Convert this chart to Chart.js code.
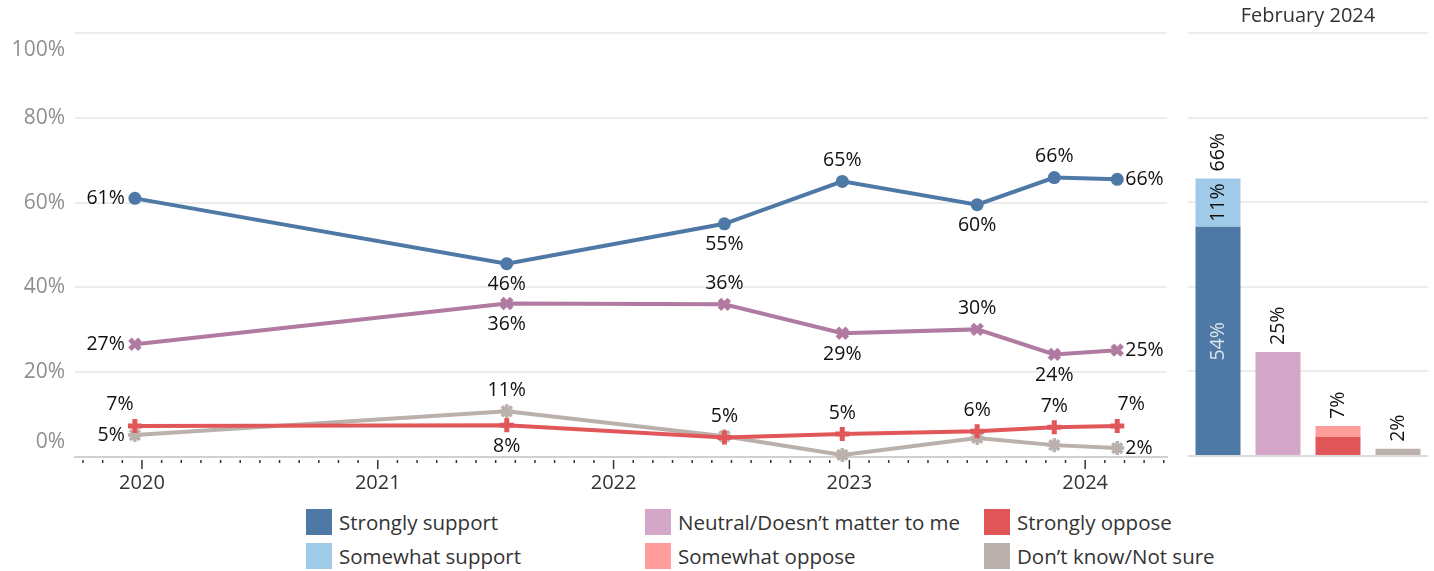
<!DOCTYPE html>
<html>
<head>
<meta charset="utf-8">
<title>Support over time</title>
<script src="https://cdn.jsdelivr.net/npm/chart.js@4.4.1/dist/chart.umd.min.js"></script>
<style>
  body { margin: 0; background: #fff; font-family: "Open Sans", sans-serif; }
  #page { position: relative; width: 1434px; height: 571px; overflow: hidden; }
  #lineBox { position: absolute; left: 0; top: 0; width: 1179px; height: 500px; }
  #barBox { position: absolute; left: 1180px; top: 0; width: 254px; height: 500px; }
  .key { position: absolute; display: flex; align-items: center; font-size: 20.5px; color: #333; white-space: nowrap; }
  .key span { display: inline-block; width: 26px; height: 26px; margin-right: 7px; }
</style>
</head>
<body>
<div id="page">
  <div id="lineBox"><canvas id="lineChart"></canvas></div>
  <div id="barBox"><canvas id="barChart"></canvas></div>
  <div id="legend"></div>
</div>
<script>
// survey waves as decimal years
const surveyDates = [2019.97, 2021.547, 2022.47, 2022.97, 2023.542, 2023.869, 2024.136];
const supportTotal = [61, 45.6, 55, 65, 59.5, 65.9, 65.5];
const neutral = [26.6, 36.2, 36, 29.2, 30.1, 24.2, 25.2];
const opposeTotal = [7.3, 7.5, 4.6, 5.4, 6.1, 7.0, 7.3];
const notSure = [5.2, 10.8, 4.9, 0.5, 4.5, 2.8, 2.1];

// February 2024 breakdown
const febCategories = ['Support', 'Neutral', 'Oppose', 'Not sure'];
const febBase = [54.2, 24.6, 4.5, 1.7];      // strongly support / neutral / strongly oppose / not sure
const febSomewhat = [11.4, 0, 2.6, 0];      // somewhat support / - / somewhat oppose / -

const yTicks = [0, 20, 40, 60, 80, 100];
const yearTicks = [2020, 2021, 2022, 2023, 2024];

const legendItems = [
  ['Strongly support', '#4e79a7'],
  ['Neutral/Doesn’t matter to me', '#d4a6c8'],
  ['Strongly oppose', '#e15759'],
  ['Somewhat support', '#a0cbe8'],
  ['Somewhat oppose', '#ff9d9a'],
  ['Don’t know/Not sure', '#bab0ac']
];

// where each point label sits (a=above, b=below, l=left, r=right)
const labelSpots = [
  ['l', 'b', 'b', 'a', 'b', 'a', 'r'],
  ['l', 'b', 'a', 'b', 'a', 'b', 'r'],
  ['al', 'b', 'a', 'a', 'a', 'a', 'ar'],
  ['l', 'a', null, null, null, null, 'r']
];

const FONT = '"Open Sans", sans-serif';
const pct = v => Math.round(v) + '%';
const toPoints = vals => surveyDates.map((d, i) => ({ x: d, y: vals[i] }));

// monthly tick positions for the time axis
const monthTicks = [];
for (let m = 9; m <= 4 * 12 + 4 + 12; m++) monthTicks.push(2019 + m / 12);

const pointLabels = {
  id: 'pointLabels',
  afterDatasetsDraw(chart) {
    const ctx = chart.ctx;
    ctx.save();
    ctx.font = '19.5px ' + FONT;
    ctx.fillStyle = '#111';
    ctx.textBaseline = 'middle';
    chart.data.datasets.forEach((ds, d) => {
      const meta = chart.getDatasetMeta(d);
      meta.data.forEach((pt, i) => {
        const spot = labelSpots[d][i];
        if (!spot) return;
        let x = pt.x, y = pt.y;
        ctx.textAlign = 'center';
        if (spot === 'a') y -= 21;
        if (spot === 'b') y += 21;
        if (spot === 'al') { x -= 15; y -= 22; }
        if (spot === 'ar') { x += 14; y -= 22; }
        if (spot === 'l') { x -= 10; ctx.textAlign = 'right'; }
        if (spot === 'r') { x += 8; ctx.textAlign = 'left'; }
        ctx.fillText(pct(ds.data[i].y), x, y);
      });
    });
    ctx.restore();
  }
};

const axisExtras = {
  id: 'axisExtras',
  afterDraw(chart) {
    const ctx = chart.ctx;
    const xs = chart.scales.x, ys = chart.scales.y;
    ctx.save();
    // tick marks
    ctx.strokeStyle = '#333';
    ctx.lineWidth = 1.5;
    xs.ticks.forEach(t => {
      const px = xs.getPixelForValue(t.value);
      const isYear = Math.abs(t.value - Math.round(t.value)) < 1e-6;
      ctx.beginPath();
      ctx.moveTo(px, xs.top + 3);
      ctx.lineTo(px, xs.top + (isYear ? 12 : 6));
      ctx.stroke();
    });
    // y labels, nudged inside at the ends
    ctx.font = '21px ' + FONT;
    ctx.fillStyle = '#8f8f8f';
    ctx.textAlign = 'right';
    ctx.textBaseline = 'middle';
    yTicks.forEach(v => {
      let py = ys.getPixelForValue(v);
      if (v === 100) py += 17;
      if (v === 0) py -= 15;
      ctx.fillText(v + '%', 65, py);
    });
    ctx.restore();
  }
};

new Chart(document.getElementById('lineChart'), {
  type: 'line',
  data: {
    datasets: [
      { label: 'Strongly support', data: toPoints(supportTotal), borderColor: '#4e79a7', backgroundColor: '#4e79a7',
        pointStyle: 'circle', pointRadius: 6.5, pointBorderWidth: 0 },
      { label: 'Neutral', data: toPoints(neutral), borderColor: '#b07aa1', backgroundColor: '#b07aa1',
        pointStyle: 'crossRot', pointRadius: 7, pointBorderWidth: 5 },
      { label: 'Strongly oppose', data: toPoints(opposeTotal), borderColor: '#e15759', backgroundColor: '#e15759',
        pointStyle: 'cross', pointRadius: 7, pointBorderWidth: 5 },
      { label: 'Don’t know', data: toPoints(notSure), borderColor: '#bab0ac', backgroundColor: '#bab0ac',
        pointStyle: 'star', pointRadius: 7, pointBorderWidth: 3.5 }
    ]
  },
  options: {
    responsive: true,
    maintainAspectRatio: false,
    animation: false,
    events: [],
    clip: false,
    elements: { line: { borderWidth: 4, tension: 0 } },
    layout: { padding: { top: 33, right: 4, left: 0, bottom: 0 } },
    plugins: { legend: { display: false }, tooltip: { enabled: false } },
    scales: {
      x: {
        type: 'linear',
        min: 2019.716,
        max: 2024.347,
        afterBuildTicks: axis => { axis.ticks = monthTicks.map(v => ({ value: v })); },
        afterFit: axis => { axis.height = 43; },
        grid: { display: false, drawTicks: false },
        border: { display: true, color: '#d0d0d0', width: 2, dash: [2, 2] },
        ticks: {
          autoSkip: false,
          maxRotation: 0,
          padding: 14,
          color: '#333',
          font: { family: FONT, size: 20 },
          callback: v => (yearTicks.some(y => Math.abs(y - v) < 1e-6) ? String(Math.round(v)) : '')
        }
      },
      y: {
        min: 0,
        max: 100,
        afterBuildTicks: axis => { axis.ticks = yTicks.map(v => ({ value: v })); },
        afterFit: axis => { axis.width = 75; },
        ticks: { display: false },
        border: { display: false },
        grid: { color: c => (c.tick && c.tick.value === 0 ? 'rgba(0,0,0,0)' : '#ececec'), lineWidth: 2, drawTicks: false }
      }
    }
  },
  plugins: [pointLabels, axisExtras]
});

const barLabels = {
  id: 'barLabels',
  afterDatasetsDraw(chart) {
    const ctx = chart.ctx;
    const ys = chart.scales.y;
    const baseMeta = chart.getDatasetMeta(0);
    ctx.save();
    ctx.font = '19.5px ' + FONT;
    ctx.textBaseline = 'middle';
    febCategories.forEach((c, i) => {
      const x = baseMeta.data[i].x;
      const total = febBase[i] + febSomewhat[i];
      ctx.save();
      ctx.translate(x, ys.getPixelForValue(total) - 7);
      ctx.rotate(-Math.PI / 2);
      ctx.textAlign = 'left';
      ctx.fillStyle = '#111';
      ctx.fillText(pct(total), 0, 0);
      ctx.restore();
      if (i === 0) {
        // inner labels for the support bar
        const segs = [[0, febBase[0], 'rgba(255,255,255,0.8)'], [febBase[0], total, '#111']];
        segs.forEach(([lo, hi, col]) => {
          ctx.save();
          ctx.translate(x, (ys.getPixelForValue(lo) + ys.getPixelForValue(hi)) / 2);
          ctx.rotate(-Math.PI / 2);
          ctx.textAlign = 'center';
          ctx.fillStyle = col;
          ctx.fillText(pct(hi - lo), 0, 0);
          ctx.restore();
        });
      }
    });
    ctx.restore();
  }
};

new Chart(document.getElementById('barChart'), {
  type: 'bar',
  data: {
    labels: febCategories,
    datasets: [
      { data: febBase, backgroundColor: ['#4e79a7', '#d4a6c8', '#e15759', '#bab0ac'] },
      { data: febSomewhat, backgroundColor: ['#a0cbe8', '#d4a6c8', '#ff9d9a', '#bab0ac'] }
    ]
  },
  options: {
    responsive: true,
    maintainAspectRatio: false,
    animation: false,
    events: [],
    layout: { padding: { top: 0, right: 6, left: 8, bottom: 44 } },
    plugins: {
      legend: { display: false },
      tooltip: { enabled: false },
      title: {
        display: true,
        text: 'February 2024',
        color: '#333',
        font: { family: FONT, size: 20, weight: 'normal', lineHeight: 1.2 },
        padding: { top: 4, bottom: 5 }
      }
    },
    datasets: { bar: { categoryPercentage: 1, barPercentage: 0.75 } },
    scales: {
      x: { stacked: true, display: false },
      y: {
        stacked: true,
        min: 0,
        max: 100,
        afterBuildTicks: axis => { axis.ticks = yTicks.map(v => ({ value: v })); },
        afterFit: axis => { axis.width = 0; },
        ticks: { display: false },
        border: { display: false },
        grid: { color: c => (c.tick && c.tick.value === 0 ? '#dcdcdc' : '#ececec'), lineWidth: 2, drawTicks: false }
      }
    }
  },
  plugins: [barLabels]
});

// legend, 3 columns by 2 rows
const legendCols = [306, 645, 984];
const legendRows = [508, 542];
const legendEl = document.getElementById('legend');
legendItems.forEach(([name, color], i) => {
  const el = document.createElement('div');
  el.className = 'key';
  el.style.left = legendCols[i % 3] + 'px';
  el.style.top = legendRows[Math.floor(i / 3)] + 'px';
  el.innerHTML = '<span style="background:' + color + '"></span>' + name;
  legendEl.appendChild(el);
});
</script>
</body>
</html>
